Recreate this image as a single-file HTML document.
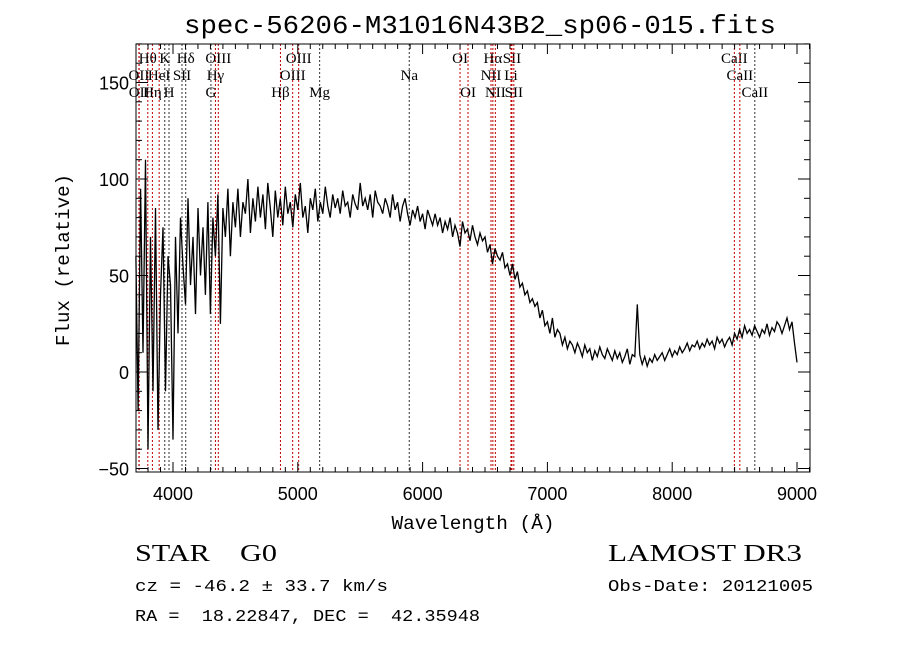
<!DOCTYPE html>
<html><head><meta charset="utf-8"><style>body{margin:0;background:#fff}svg{display:block}text{white-space:pre}</style></head>
<body>
<svg id="c" width="900" height="649" xmlns="http://www.w3.org/2000/svg">
<text x="480" y="33" text-anchor="middle" font-family="Liberation Mono, monospace" font-size="26" textLength="592" lengthAdjust="spacingAndGlyphs">spec-56206-M31016N43B2_sp06-015.fits</text>
<text x="473" y="529" text-anchor="middle" font-family="Liberation Mono, monospace" font-size="19" textLength="163" lengthAdjust="spacingAndGlyphs">Wavelength (Å)</text>
<text transform="translate(69,260) rotate(-90)" text-anchor="middle" font-family="Liberation Mono, monospace" font-size="19" textLength="172" lengthAdjust="spacingAndGlyphs">Flux (relative)</text>
<text x="135" y="561" xml:space="preserve" font-family="Liberation Serif, serif" font-size="24" textLength="142" lengthAdjust="spacingAndGlyphs">STAR    G0</text>
<text x="608" y="561" font-family="Liberation Serif, serif" font-size="24" textLength="194" lengthAdjust="spacingAndGlyphs">LAMOST DR3</text>
<text x="135" y="591" xml:space="preserve" font-family="Liberation Mono, monospace" font-size="17" textLength="253" lengthAdjust="spacingAndGlyphs">cz = -46.2 ± 33.7 km/s</text>
<text x="608" y="591" font-family="Liberation Mono, monospace" font-size="17" textLength="205" lengthAdjust="spacingAndGlyphs">Obs-Date: 20121005</text>
<text x="135" y="621" xml:space="preserve" font-family="Liberation Mono, monospace" font-size="17" textLength="345" lengthAdjust="spacingAndGlyphs">RA =  18.22847, DEC =  42.35948</text>
<g id="lines"></g><g id="ticks"></g><path id="spec" fill="none" stroke="#000" stroke-width="1.3"/>
<rect x="136" y="44" width="674" height="428" fill="none" stroke="#000" stroke-width="1"/>
</svg>
<script>
const waveStart = 3700, waveStep = 20;
const flux = [60,-20,95,10,110,-40,70,-10,85,-30,
40,75,-10,60,45,-35,70,20,80,55,
35,90,45,70,30,85,50,75,40,88,
30,80,60,92,25,85,70,95,60,88,
75,95,70,88,82,100,72,90,78,96,
80,92,74,98,85,70,94,80,90,76,
96,82,88,75,92,84,98,80,86,72,
90,84,95,78,88,82,96,86,80,92,
85,90,82,94,86,88,80,92,87,84,
98,86,90,84,92,80,94,88,86,82,
90,86,80,92,84,88,78,86,90,82,
76,84,80,86,78,82,74,84,80,76,
82,76,80,72,78,74,80,70,76,72,
65,78,72,74,68,76,70,66,72,68,
70,62,66,56,64,60,58,62,54,56,
50,56,48,52,44,46,40,42,36,38,
34,36,28,32,24,26,20,28,18,22,
20,14,18,12,16,14,10,15,12,8,
14,10,12,6,11,8,13,9,7,12,
9,6,11,7,10,5,8,12,4,9,
8,35,9,4,8,3,7,5,9,6,
8,10,6,9,12,8,11,9,13,10,
12,15,11,14,13,16,12,15,13,17,
14,16,12,18,15,17,13,16,18,14,
20,17,22,18,24,20,22,19,24,21,
18,22,20,25,19,23,21,26,24,20,
24,28,22,26,15,5];
const lineWaves = [3798,3934,4102,4363,5007,6300,6563,6716,8498, 3727,3889,4072,4340,4959,5893,6548,6708,8542, 3729,3835,3968,4304,4861,5175,6364,6583,6731,8662];
const lineNames = ["Hθ","K","Hδ","OIII","OIII","OI","Hα","SII","CaII", "OII","HeI","SII","Hγ","OIII","Na","NII","Li","CaII", "OII","Hη","H","G","Hβ","Mg","OI","NII","SII","CaII"];
const lineRows = [0,0,0,0,0,0,0,0,0, 1,1,1,1,1,1,1,1,1, 2,2,2,2,2,2,2,2,2,2];
const xTicks = [4000,5000,6000,7000,8000,9000];
const yTicks = [-50,0,50,100,150];
const X = w => 173 + (w-4000)*0.1248;
const Y = f => 372 - f*1.93;
const NS='http://www.w3.org/2000/svg';
function mk(t,a,p){const e=document.createElementNS(NS,t);for(const k in a)e.setAttribute(k,a[k]);p.appendChild(e);return e;}
const lg=document.getElementById('lines'), tg=document.getElementById('ticks');
const black = new Set([3934,3968,4102,4072,4304,5175,5893,8662]);
lineWaves.forEach((w,i)=>{
  const l=mk('line',{x1:X(w),x2:X(w),y1:44,y2:472,stroke:black.has(w)?'#333':'#c00000','stroke-width':1,'stroke-dasharray':'2,2'},lg);
  
  
  const t=mk('text',{x:X(w),y:63+lineRows[i]*17,'text-anchor':'middle','font-family':'Liberation Serif, serif','font-size':15},lg);
  t.textContent=lineNames[i];
  
  
});
for(let w=3800;w<=9100;w+=100){const maj=w%1000===0;const h=maj?10:5;
  mk('line',{x1:X(w),x2:X(w),y1:472,y2:472-h,stroke:'#000'},tg);
  mk('line',{x1:X(w),x2:X(w),y1:44,y2:44+h,stroke:'#000'},tg);}
for(let f=-50;f<=170;f+=10){const maj=f%50===0;const h=maj?12:6;
  mk('line',{x1:136,x2:136+h,y1:Y(f),y2:Y(f),stroke:'#000'},tg);
  mk('line',{x1:810,x2:810-h,y1:Y(f),y2:Y(f),stroke:'#000'},tg);}
xTicks.forEach(v=>{const t=mk('text',{x:X(v),y:500,'text-anchor':'middle','font-family':'Liberation Sans, sans-serif','font-size':18},tg);t.textContent=v;
  
  });
yTicks.forEach(v=>{const t=mk('text',{x:129,y:Y(v)+7,'text-anchor':'end','font-family':'Liberation Sans, sans-serif','font-size':18},tg);t.textContent=v.toString().replace('-','−');
  
  });
let d='';flux.forEach((f,i)=>{const w=waveStart+i*waveStep;d+=(i?'L':'M')+X(Math.max(w,3703)).toFixed(1)+','+Y(f).toFixed(1);});
document.getElementById('spec').setAttribute('d',d);
</script>
</body></html>
